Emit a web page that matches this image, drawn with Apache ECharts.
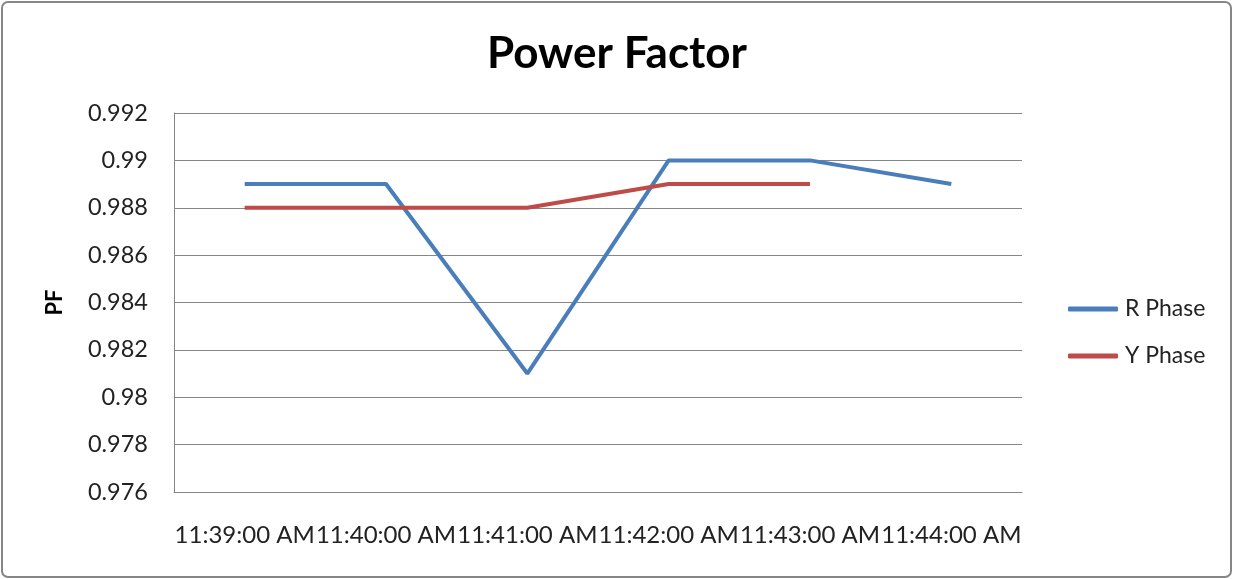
<!DOCTYPE html>
<html>
<head>
<meta charset="utf-8">
<script src="https://cdn.jsdelivr.net/npm/echarts@6/dist/echarts.min.js"></script>
<style>
  html, body { margin: 0; padding: 0; background: #fff; }
  #chart { width: 1234px; height: 579px; }
</style>
</head>
<body>
<div id="chart"></div>
<script>
// chart data
const times = ['11:39:00 AM', '11:40:00 AM', '11:41:00 AM', '11:42:00 AM', '11:43:00 AM', '11:44:00 AM']
const rPhase = [0.989, 0.989, 0.981, 0.990, 0.990, 0.989]
const yPhase = [0.988, 0.988, 0.988, 0.989, 0.989]

const font = 'Lato, "Open Sans", sans-serif'
const chart = echarts.init(document.getElementById('chart'))

chart.setOption({
  animation: false,
  graphic: [{
    type: 'rect',
    shape: { x: 2, y: 2, width: 1229, height: 575, r: 6 },
    style: { fill: 'none', stroke: '#868686', lineWidth: 2 },
    silent: true
  }],
  title: {
    text: 'Power Factor',
    left: 'center',
    top: 27,
    textStyle: { fontFamily: font, fontSize: 44, fontWeight: 'bold', color: '#000' }
  },
  grid: {
    left: 174,
    right: 212,
    top: 113,
    bottom: 87
  },
  legend: {
    orient: 'vertical',
    left: 1063,
    top: 292,
    itemWidth: 50,
    itemHeight: 5,
    itemGap: 23,
    icon: 'roundRect',
    textStyle: { fontFamily: font, fontSize: 23, color: '#222', lineHeight: 24, padding: [0, 0, 0, 2] },
    data: ['R Phase', 'Y Phase']
  },
  xAxis: {
    type: 'category',
    data: times,
    boundaryGap: true,
    axisLine: { lineStyle: { color: '#868686', width: 1 } },
    axisTick: { show: false },
    axisLabel: { interval: 0, margin: 31, fontFamily: font, fontSize: 24, color: '#222' }
  },
  yAxis: {
    type: 'value',
    min: 0.976,
    max: 0.992,
    interval: 0.002,
    name: 'PF',
    nameLocation: 'middle',
    nameRotate: 90,
    nameGap: 108,
    nameTextStyle: { fontFamily: font, fontSize: 22, fontWeight: 'bold', color: '#000' },
    axisLine: { show: true, lineStyle: { color: '#868686', width: 1 } },
    axisTick: { show: false },
    splitLine: { lineStyle: { color: '#868686', width: 1 } },
    axisLabel: { margin: 26, fontFamily: font, fontSize: 23.5, color: '#222' }
  },
  series: [{
    name: 'R Phase',
    type: 'line',
    data: rPhase,
    showSymbol: false,
    symbol: 'none',
    lineStyle: { color: '#4a7ebb', width: 4 },
    itemStyle: { color: '#4a7ebb' }
  }, {
    name: 'Y Phase',
    type: 'line',
    data: yPhase,
    showSymbol: false,
    symbol: 'none',
    lineStyle: { color: '#be4b48', width: 4 },
    itemStyle: { color: '#be4b48' }
  }]
})
</script>
</body>
</html>
